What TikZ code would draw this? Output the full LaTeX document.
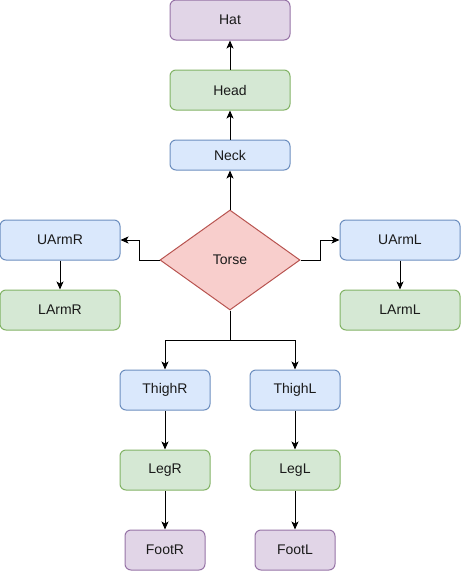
\documentclass[tikz,border=0pt]{standalone}
\usepackage{fontspec}
\setmainfont{Liberation Sans}
\usepackage{tikz}
\usetikzlibrary{arrows.meta,shapes.geometric}

\definecolor{bluefill}{HTML}{DAE8FC}
\definecolor{blueline}{HTML}{6C8EBF}
\definecolor{greenfill}{HTML}{D5E8D4}
\definecolor{greenline}{HTML}{82B366}
\definecolor{purplefill}{HTML}{E1D5E7}
\definecolor{purpleline}{HTML}{9673A6}
\definecolor{redfill}{HTML}{F8CECC}
\definecolor{redline}{HTML}{B85450}
\definecolor{txt}{HTML}{1A1A1A}

\tikzset{
  part/.style={rectangle, rounded corners=6pt, draw, line width=1pt, inner sep=0pt,
    minimum width=120pt, minimum height=40pt, text=txt,
    font=\fontsize{14}{16}\selectfont},
  bluebox/.style={part, fill=bluefill, draw=blueline},
  greenbox/.style={part, fill=greenfill, draw=greenline},
  purplebox/.style={part, fill=purplefill, draw=purpleline},
  link/.style={line width=1pt, -{Stealth[length=8pt,width=7pt,inset=2pt]}}
}

\begin{document}
\begin{tikzpicture}[x=1pt, y=-1pt]
    \useasboundingbox (0,0) rectangle (461,571);

    \node[purplebox] (hat) at (230,20) {Hat};
    \node[greenbox] (head) at (230,90) {Head};
    \node[bluebox, minimum height=30pt] (neck) at (230,155) {Neck};
    \node[diamond, draw=redline, fill=redfill, line width=1pt, inner sep=0pt, aspect=1.4,
      minimum width=140pt, minimum height=100pt, text=txt,
      font=\fontsize{14}{16}\selectfont] (torse) at (230,260) {Torse};

    \node[bluebox] (uarmr) at (60,240) {UArmR};
    \node[greenbox] (larmr) at (60,310) {LArmR};
    \node[bluebox] (uarml) at (400,240) {UArmL};
    \node[greenbox] (larml) at (400,310) {LArmL};

    \node[bluebox, minimum width=90pt] (thighr) at (165,390) {ThighR};
    \node[bluebox, minimum width=90pt] (thighl) at (295,390) {ThighL};
    \node[greenbox, minimum width=90pt] (legr) at (165,470) {LegR};
    \node[greenbox, minimum width=90pt] (legl) at (295,470) {LegL};
    \node[purplebox, minimum width=80pt] (footr) at (165,550) {FootR};
    \node[purplebox, minimum width=80pt] (footl) at (295,550) {FootL};

    \draw[link] (torse.north) -- (neck.south);
    \draw[link] (neck.north) -- (head.south);
    \draw[link] (head.north) -- (hat.south);

    \draw[link] (torse.west) -- ++(-20,0) |- (uarmr.east);
    \draw[link] (torse.east) -- ++(20,0) |- (uarml.east -| uarml.west);
    \draw[link] (uarmr.south) -- (larmr.north);
    \draw[link] (uarml.south) -- (larml.north);

    \draw[link] (torse.south) -- ++(0,30) -| (thighr.north);
    \draw[link] (torse.south) -- ++(0,30) -| (thighl.north);
    \draw[link] (thighr.south) -- (legr.north);
    \draw[link] (thighl.south) -- (legl.north);
    \draw[link] (legr.south) -- (footr.north);
    \draw[link] (legl.south) -- (footl.north);

\end{tikzpicture}
\end{document}
